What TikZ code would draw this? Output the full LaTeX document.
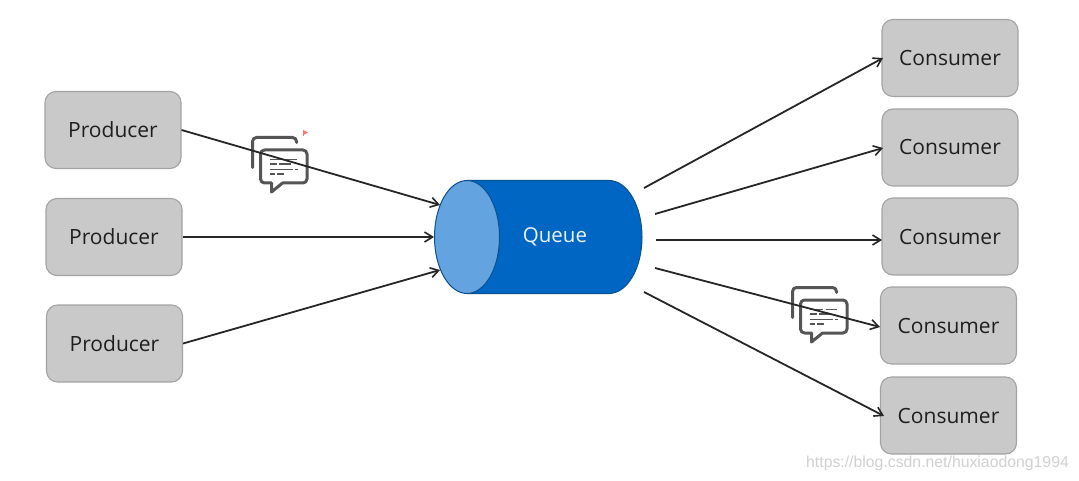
\documentclass[tikz,border=0pt]{standalone}
\usepackage{fontspec}
\setmainfont{Open Sans}
\newfontfamily\wmfont{Liberation Sans}
\usetikzlibrary{arrows.meta}
\definecolor{boxfill}{HTML}{C9C9C9}
\definecolor{boxline}{HTML}{A3A3A3}
\definecolor{qdark}{HTML}{0066C4}
\definecolor{qlight}{HTML}{62A3E0}
\definecolor{qline}{HTML}{0B4F8F}
\definecolor{iconc}{HTML}{555555}
\tikzset{
  x=1pt,y=-1pt,
  procbox/.style={draw=boxline,line width=1.1pt,fill=boxfill,rounded corners=11pt,minimum width=136pt,minimum height=77pt,inner sep=0pt,text=black!88,font=\fontsize{21}{24}\selectfont},
  flow/.style={draw=black!85,line width=1.8pt,-{Straight Barb[length=8pt,width=10pt,line width=1.6pt]}},
  iconline/.style={draw=iconc,line width=3pt,line cap=round,line join=round},
  icontext/.style={draw=iconc,line width=1.4pt},
  pics/msgicon/.style={code={
    \draw[iconline,rounded corners=4pt] (0,31) -- (0,1) -- (44,1) -- (44,6);
    \draw[iconline,fill=white] (19,46.5) [rounded corners=4pt] -- (8,46.5) -- (8,13.5) -- (54.5,13.5) -- (54.5,46.5) [sharp corners] -- (30,46.5) -- (19,55.5) -- cycle;
    \draw[icontext] (17,22.8) -- (30,22.8) (33,22.8) -- (44,22.8);
    \draw[icontext] (17,27.5) -- (24,27.5) (26,27.5) -- (38,27.5);
    \draw[icontext] (17,32.8) -- (40,32.8) (42,32.8) -- (45,32.8);
    \draw[icontext] (17,37.5) -- (22,37.5) (24,37.5) -- (31,37.5);
  }}
}
\begin{document}
\begin{tikzpicture}
\useasboundingbox (0,0) rectangle (1079,481);
\fill[white] (0,0) rectangle (1079,481);
% boxes
\node[procbox] (p1) at (113,130) {Producer};
\node[procbox] (p2) at (114,237) {Producer};
\node[procbox] (p3) at (114.5,343.5) {Producer};
\node[procbox] (c1) at (950,58) {Consumer};
\node[procbox] (c2) at (950,147.5) {Consumer};
\node[procbox] (c3) at (950,236.5) {Consumer};
\node[procbox] (c4) at (948.5,325.5) {Consumer};
\node[procbox] (c5) at (948.5,415.5) {Consumer};
% queue
\draw[qline,line width=1pt,fill=qdark] (467,180.5) -- (609,180.5) arc[start angle=-90,end angle=90,x radius=33,y radius=56.5] -- (467,293.5) -- cycle;
\draw[qline,line width=1pt,fill=qlight] (467,237) ellipse[x radius=32.5,y radius=56.5];
\node[inner sep=0pt,text=white!88!qlight,font=\fontsize{20.5}{24}\selectfont] (queue) at (555,237) {Queue};
% icons under the connectors
\pic at (252.5,136.5) {msgicon};
\pic at (792.5,286.5) {msgicon};
\fill[red!55!white] (303,130) -- (308,132.5) -- (304,134.5) -- (304,136) -- (303,136) -- cycle;
% connector ends
\coordinate (qi1) at (440,205);
\coordinate (qi2) at (434,237);
\coordinate (qi3) at (440,270);
\coordinate (qo1) at (644,188);
\coordinate (qo2) at (655,214);
\coordinate (qo3) at (656,240);
\coordinate (qo4) at (655,268);
\coordinate (qo5) at (644,292);
\coordinate (ci1) at (883,58);
\coordinate (ci2) at (883,148);
\coordinate (ci3) at (882,240);
\coordinate (ci4) at (880,327);
\coordinate (ci5) at (884,416);
\draw[flow] (p1.east) -- (qi1);
\draw[flow] (p2.east) -- (qi2);
\draw[flow] (p3.east) -- (qi3);
\draw[flow] (qo1) -- (ci1);
\draw[flow] (qo2) -- (ci2);
\draw[flow] (qo3) -- (ci3);
\draw[flow] (qo4) -- (ci4);
\draw[flow] (qo5) -- (ci5);
\node[anchor=west,inner sep=0pt,text=black!18,font=\wmfont\fontsize{15.8}{18}\selectfont] (wm) at (806,463) {https://blog.csdn.net/huxiaodong1994};
\end{tikzpicture}
\end{document}
